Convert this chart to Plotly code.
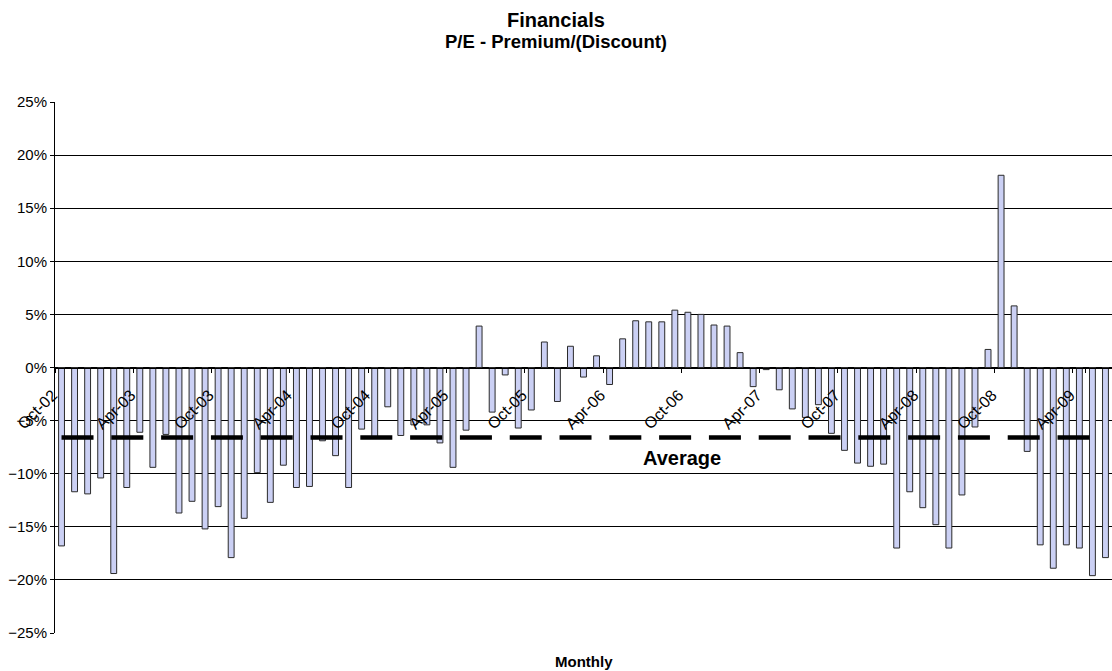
import plotly.graph_objects as go

months = ["Oct-02", "Nov-02", "Dec-02",
          "Jan-03", "Feb-03", "Mar-03", "Apr-03", "May-03", "Jun-03", "Jul-03", "Aug-03", "Sep-03", "Oct-03", "Nov-03", "Dec-03",
          "Jan-04", "Feb-04", "Mar-04", "Apr-04", "May-04", "Jun-04", "Jul-04", "Aug-04", "Sep-04", "Oct-04", "Nov-04", "Dec-04",
          "Jan-05", "Feb-05", "Mar-05", "Apr-05", "May-05", "Jun-05", "Jul-05", "Aug-05", "Sep-05", "Oct-05", "Nov-05", "Dec-05",
          "Jan-06", "Feb-06", "Mar-06", "Apr-06", "May-06", "Jun-06", "Jul-06", "Aug-06", "Sep-06", "Oct-06", "Nov-06", "Dec-06",
          "Jan-07", "Feb-07", "Mar-07", "Apr-07", "May-07", "Jun-07", "Jul-07", "Aug-07", "Sep-07", "Oct-07", "Nov-07", "Dec-07",
          "Jan-08", "Feb-08", "Mar-08", "Apr-08", "May-08", "Jun-08", "Jul-08", "Aug-08", "Sep-08", "Oct-08", "Nov-08", "Dec-08",
          "Jan-09", "Feb-09", "Mar-09", "Apr-09", "May-09", "Jun-09"]

premium = [-16.8, -11.7, -11.9, -10.4, -19.4, -11.3, -6.1, -9.4, -6.3, -13.7,
           -12.6, -15.2, -13.1, -17.9, -14.2, -9.9, -12.7, -9.2, -11.3, -11.2,
           -6.9, -8.3, -11.3, -5.8, -6.5, -3.7, -6.4, -5.4, -5.4, -7.1,
           -9.4, -5.9, 3.9, -4.2, -0.7, -5.7, -4.0, 2.4, -3.2, 2.0,
           -0.9, 1.1, -1.6, 2.7, 4.4, 4.3, 4.3, 5.4, 5.2, 5.0,
           4.0, 3.9, 1.4, -1.8, -0.2, -2.1, -3.9, -4.7, -3.5, -6.2,
           -7.8, -9.0, -9.3, -9.1, -17.0, -11.7, -13.2, -14.8, -17.0, -12.0,
           -5.6, 1.7, 18.1, 5.8, -7.9, -16.7, -18.9, -16.7, -17.0, -19.6,
           -17.9]

average_value = -6.6
tick_labels = ["Oct-02", "Apr-03", "Oct-03", "Apr-04", "Oct-04", "Apr-05", "Oct-05",
               "Apr-06", "Oct-06", "Apr-07", "Oct-07", "Apr-08", "Oct-08", "Apr-09"]

FONT = "Arial, 'Liberation Sans', sans-serif"

fig = go.Figure()
fig.add_trace(go.Bar(
    x=months, y=premium, width=0.45,
    marker=dict(color="#CBD0F4", line=dict(color="#2a2a2a", width=1)),
    showlegend=False, hoverinfo="x+y",
))
fig.add_trace(go.Scatter(
    x=months, y=[average_value] * len(months), mode="lines",
    line=dict(color="black", width=4.5, dash="32px,17.8px"),
    showlegend=False, hoverinfo="skip",
))

fig.update_layout(
    width=1112, height=671,
    margin=dict(l=55, r=0, t=102, b=38, autoexpand=False),
    paper_bgcolor="white", plot_bgcolor="white",
    font=dict(family=FONT, color="black"),
    bargap=0.5,
    xaxis=dict(
        type="category", categoryorder="array", categoryarray=months,
        range=[-0.5, len(months) - 0.5],
        anchor="free", position=0.5, automargin=False,
        tickmode="array", tickvals=tick_labels, ticktext=tick_labels,
        tickangle=-45, tickfont=dict(size=16, color="black"),
        ticks="outside", ticklen=4, tickcolor="black", tickson="boundaries",
        ticklabelshift=-9, ticklabelstandoff=11,
        showgrid=False, showline=True, linecolor="black", linewidth=1,
        zeroline=False,
    ),
    yaxis=dict(
        range=[-25, 25], dtick=5, ticksuffix="%", automargin=False,
        tickfont=dict(size=15, color="black"),
        showgrid=True, gridcolor="black", gridwidth=1,
        showline=True, linecolor="black", linewidth=1,
        ticks="outside", ticklen=4, tickcolor="black",
        zeroline=True, zerolinecolor="black", zerolinewidth=1,
    ),
    annotations=[
        dict(text="<b>Financials</b>", xref="paper", yref="paper", x=(556 - 55) / 1057, y=1 + (102 - 20) / 531,
             showarrow=False, font=dict(size=20, family=FONT), xanchor="center", yanchor="middle"),
        dict(text="<b>P/E - Premium/(Discount)</b>", xref="paper", yref="paper", x=(556 - 55) / 1057, y=1 + (102 - 42) / 531,
             showarrow=False, font=dict(size=18.5, family=FONT), xanchor="center", yanchor="middle"),
        dict(text="<b>Monthly</b>", xref="paper", yref="paper", x=0.5, y=-(661 - 633) / 531,
             showarrow=False, font=dict(size=15, family=FONT), xanchor="center", yanchor="middle"),
        dict(text="<b>Average</b>", xref="paper", yref="y", x=(682 - 55) / 1057, y=-8.55,
             showarrow=False, font=dict(size=20, family=FONT), xanchor="center", yanchor="middle"),
    ],
)

fig.write_html("out.html", config={"displayModeBar": False},
               post_script="document.body.style.margin='0';document.body.style.overflow='hidden';")
